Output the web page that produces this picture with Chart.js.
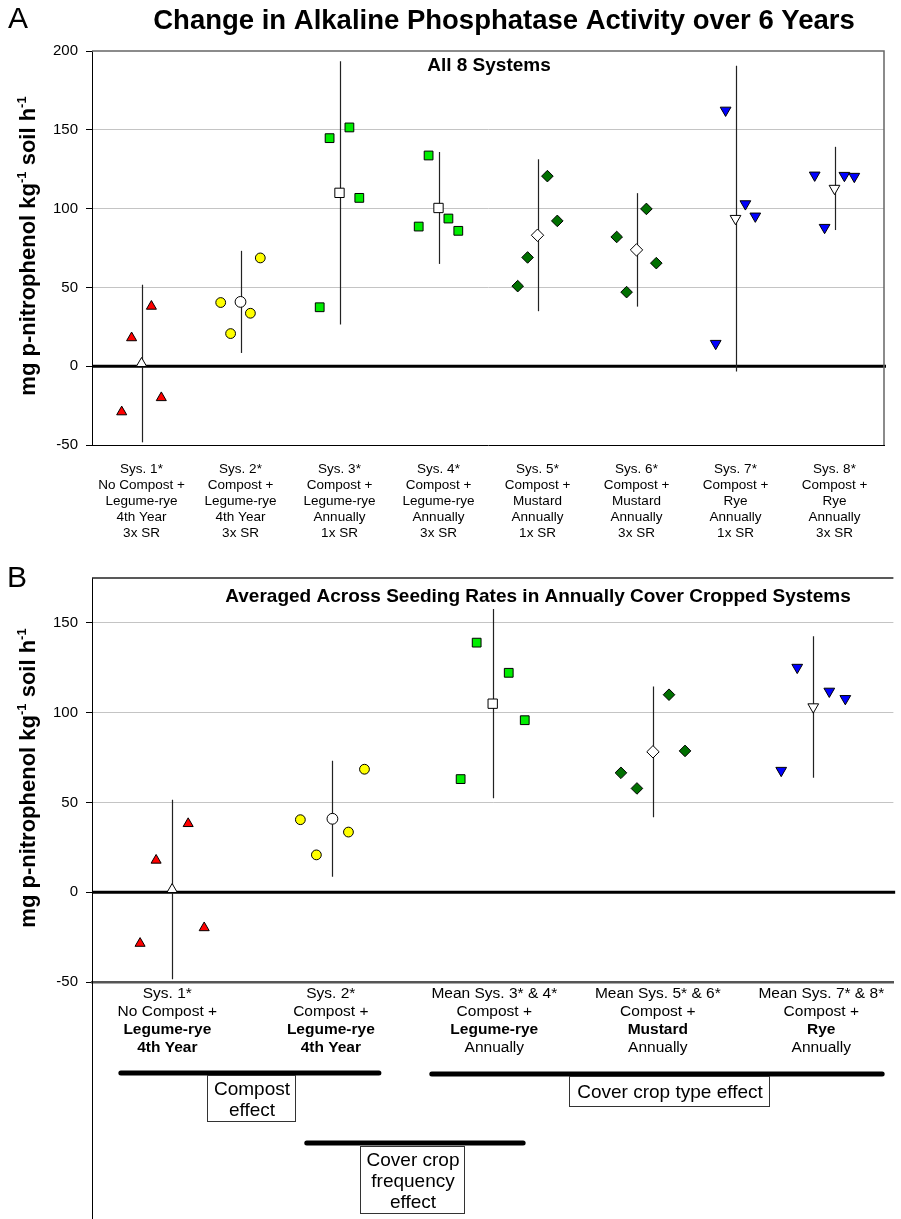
<!DOCTYPE html>
<html>
<head>
<meta charset="utf-8">
<script src="https://cdn.jsdelivr.net/npm/chart.js@4.4.1/dist/chart.umd.min.js"></script>
<style>
  body { margin: 0; background: #fff; }
  #wrap { position: relative; width: 901px; height: 1219px; }
  #chartA { position: absolute; left: 0; top: 0; }
  #chartB { position: absolute; left: 0; top: 560px; }
</style>
</head>
<body>
<div id="wrap">
  <canvas id="chartA" width="901" height="560"></canvas>
  <canvas id="chartB" width="901" height="659"></canvas>
</div>
<script>
const FONT = "'Liberation Sans', Arial, Helvetica, sans-serif";

// ---- panel A : all 8 systems ----
const labelsA = [
  ['Sys. 1*', 'No Compost +', 'Legume-rye', '4th Year', '3x SR'],
  ['Sys. 2*', 'Compost +', 'Legume-rye', '4th Year', '3x SR'],
  ['Sys. 3*', 'Compost +', 'Legume-rye', 'Annually', '1x SR'],
  ['Sys. 4*', 'Compost +', 'Legume-rye', 'Annually', '3x SR'],
  ['Sys. 5*', 'Compost +', 'Mustard', 'Annually', '1x SR'],
  ['Sys. 6*', 'Compost +', 'Mustard', 'Annually', '3x SR'],
  ['Sys. 7*', 'Compost +', 'Rye', 'Annually', '1x SR'],
  ['Sys. 8*', 'Compost +', 'Rye', 'Annually', '3x SR']
];
const sys1 = [-29, 18, 38, -20];
const sys2 = [40.4, 20.7, 33.6, 68.7];
const sys3 = [37.4, 144.7, 151.5, 106.8];
const sys4 = [88.6, 133.7, 93.7, 85.9];
const sys5 = [50.8, 69.0, 120.6, 92.2];
const sys6 = [82.0, 47.0, 99.8, 65.4];
const sys7 = [14.4, 162.4, 103.0, 95.2];
const sys8 = [121.2, 88.0, 121.0, 120.4];
const meansA = [1.7, 40.8, 110, 100.4, 83.1, 73.8, 93.7, 112.8];
const errA = [50, 32.4, 83.5, 35.5, 48.2, 36, 97, 26.4];
const ticksA = [-50, 0, 50, 100, 150, 200];

// ---- panel B : averaged across seeding rates ----
const labelsB = [
  ['Sys. 1*', 'No Compost +', 'Legume-rye', '4th Year'],
  ['Sys. 2*', 'Compost +', 'Legume-rye', '4th Year'],
  ['Mean Sys. 3* & 4*', 'Compost +', 'Legume-rye', 'Annually'],
  ['Mean Sys. 5* & 6*', 'Compost +', 'Mustard', 'Annually'],
  ['Mean Sys. 7* & 8*', 'Compost +', 'Rye', 'Annually']
];
const boldB = [[2, 3], [2, 3], [2], [2], [2]];
const grp1 = [-28.5, 17.8, 38.2, -19.8];
const grp2 = [40.4, 20.8, 33.5, 68.5];
const grp3 = [63.0, 139.0, 122.2, 95.8];
const grp4 = [66.5, 57.8, 110.0, 78.7];
const grp5 = [67.8, 125.2, 111.9, 107.8];
const meansB = [1.5, 40.9, 105, 78.2, 103.2];
const errB = [50, 32.3, 52.7, 36.4, 39.4];
const ticksB = [-50, 0, 50, 100, 150];

const brackets = [
  { from: -0.32, to: 1.29, y: 513, text: ['Compost', 'effect'], box: [207, 515, 88, 46] },
  { from: 1.62, to: 4.43, y: 514, text: ['Cover crop type effect'], box: [569, 516, 200, 30] },
  { from: 0.84, to: 2.19, y: 583, text: ['Cover crop', 'frequency', 'effect'], box: [360, 586, 104, 67] }
];

const jitter = [-0.2, -0.1, 0.1, 0.2];

const marker = {
  tri:  { style: 'triangle', rot: 0,   fill: '#ff0000', r: 5.8, rm: 6.0 },
  circ: { style: 'circle',   rot: 0,   fill: '#ffff00', r: 4.9, rm: 5.4 },
  sq:   { style: 'rect',     rot: 0,   fill: '#00ee00', r: 6.2, rm: 6.6 },
  dia:  { style: 'rectRot',  rot: 0,   fill: '#007000', r: 5.8, rm: 6.2 },
  down: { style: 'triangle', rot: 180, fill: '#0000ff', r: 6.2, rm: 6.2 }
};

const buildSets = (groups, kinds, means) => {
  const sets = groups.map((vals, i) => {
    const m = marker[kinds[i]];
    return {
      data: vals.map((v, j) => ({ x: i + jitter[j], y: v })),
      showLine: false,
      pointStyle: m.style,
      pointRotation: m.rot,
      pointRadius: m.r,
      pointBackgroundColor: m.fill,
      pointBorderColor: '#000',
      pointBorderWidth: 1
    };
  });
  sets.unshift({
    data: means.map((v, i) => ({ x: i, y: v })),
    showLine: false,
    pointStyle: kinds.map(k => marker[k].style),
    pointRotation: kinds.map(k => marker[k].rot),
    pointRadius: kinds.map(k => marker[k].rm),
    pointBackgroundColor: '#ffffff',
    pointBorderColor: '#000',
    pointBorderWidth: 1
  });
  return sets;
};

const errorBars = {
  id: 'errorBars',
  beforeDatasetsDraw(chart, args, opts) {
    const { ctx, chartArea: a, scales: { x, y } } = chart;
    ctx.save();
    ctx.beginPath();
    ctx.rect(a.left, a.top - 2, a.right - a.left + 2, a.bottom - a.top + 2);
    ctx.clip();
    // zero line
    const y0 = y.getPixelForValue(0);
    ctx.strokeStyle = '#000';
    ctx.lineWidth = 3;
    ctx.beginPath();
    ctx.moveTo(a.left, y0);
    ctx.lineTo(a.right + 2, y0);
    ctx.stroke();
    // error bars
    ctx.strokeStyle = '#222';
    ctx.lineWidth = 1.2;
    opts.means.forEach((m, i) => {
      const px = Math.round(x.getPixelForValue(i)) + 0.5;
      ctx.beginPath();
      ctx.moveTo(px, y.getPixelForValue(m + opts.err[i]));
      ctx.lineTo(px, y.getPixelForValue(m - opts.err[i]));
      ctx.stroke();
    });
    ctx.restore();
  }
};

const text = (ctx, str, x, y, size, bold, align) => {
  ctx.font = (bold ? 'bold ' : '') + size + 'px ' + FONT;
  ctx.textAlign = align || 'center';
  ctx.textBaseline = 'middle';
  ctx.fillStyle = '#000';
  ctx.fillText(str, x, y);
};

const yTitle = (ctx, bx, cy) => {
  const parts = [['mg p-nitrophenol kg', false], ['-1', true], [' soil h', false], ['-1', true]];
  const big = 'bold 22px ' + FONT, small = 'bold 13px ' + FONT;
  let total = 0;
  parts.forEach(p => { ctx.font = p[1] ? small : big; total += ctx.measureText(p[0]).width; });
  ctx.save();
  ctx.translate(bx, cy);
  ctx.rotate(-Math.PI / 2);
  ctx.textBaseline = 'alphabetic';
  ctx.textAlign = 'left';
  ctx.fillStyle = '#000';
  let pos = -total / 2;
  parts.forEach(p => {
    ctx.font = p[1] ? small : big;
    ctx.fillText(p[0], pos, p[1] ? -9 : 0);
    pos += ctx.measureText(p[0]).width;
  });
  ctx.restore();
};

const yAxis = (min, max, tickVals) => ({
  type: 'linear',
  min: min,
  max: max,
  afterBuildTicks: s => { s.ticks = tickVals.map(v => ({ value: v })); },
  afterFit: s => { s.width = 92; },
  ticks: { color: '#000', padding: 8, font: { family: FONT, size: 15 } },
  grid: {
    color: c => (c.tick && [50, 100, 150].includes(c.tick.value)) ? '#c4c4c4' : 'rgba(0,0,0,0)',
    tickColor: '#000',
    tickLength: 6,
    lineWidth: 1
  },
  border: { display: true, color: '#000', width: 1 }
});

// ---------- chart A ----------
const kindsA = ['tri', 'circ', 'sq', 'sq', 'dia', 'dia', 'down', 'down'];

const decorA = {
  id: 'decorA',
  afterDraw(chart) {
    const { ctx, chartArea: a } = chart;
    ctx.save();
    ctx.strokeStyle = '#666';
    ctx.lineWidth = 1.5;
    ctx.beginPath();
    ctx.moveTo(a.left, a.top);
    ctx.lineTo(a.right, a.top);
    ctx.lineTo(a.right, a.bottom);
    ctx.stroke();
    ctx.restore();
    text(ctx, 'A', 18, 20, 30, false);
    text(ctx, 'Change in Alkaline Phosphatase Activity over 6 Years', 504, 21, 27.5, true);
    text(ctx, 'All 8 Systems', 489, 66, 19, true);
    yTitle(ctx, 35, 246);
  }
};

new Chart(document.getElementById('chartA'), {
  type: 'scatter',
  data: { datasets: buildSets([sys1, sys2, sys3, sys4, sys5, sys6, sys7, sys8], kindsA, meansA) },
  options: {
    responsive: false,
    animation: false,
    events: [],
    layout: { padding: { top: 51, right: 17, left: 0, bottom: 0 } },
    plugins: {
      legend: { display: false },
      tooltip: { enabled: false },
      errorBars: { means: meansA, err: errA }
    },
    scales: {
      x: {
        type: 'linear',
        min: -0.5,
        max: 7.5,
        afterBuildTicks: s => { s.ticks = labelsA.map((l, i) => ({ value: i })); },
        afterFit: s => { s.height = 115; },
        ticks: {
          color: '#000',
          padding: 16,
          maxRotation: 0,
          autoSkip: false,
          font: { family: FONT, size: 13.5, lineHeight: '16px' },
          callback: v => labelsA[v]
        },
        grid: { display: false, drawTicks: false },
        border: { display: true, color: '#000', width: 1 }
      },
      y: yAxis(-50, 200, ticksA)
    }
  },
  plugins: [errorBars, decorA]
});

// ---------- chart B ----------
const kindsB = ['tri', 'circ', 'sq', 'dia', 'down'];

const decorB = {
  id: 'decorB',
  afterDraw(chart) {
    const { ctx, chartArea: a, scales: { x } } = chart;
    ctx.save();
    ctx.strokeStyle = '#222';
    ctx.lineWidth = 1.5;
    ctx.beginPath();
    ctx.moveTo(a.left, a.top);
    ctx.lineTo(a.right, a.top);
    ctx.stroke();
    // left axis continues below the plot
    ctx.strokeStyle = '#000';
    ctx.lineWidth = 1;
    ctx.beginPath();
    ctx.moveTo(a.left + 0.5, a.bottom);
    ctx.lineTo(a.left + 0.5, chart.height);
    ctx.stroke();
    ctx.restore();

    text(ctx, 'B', 17, 19, 30, false);
    text(ctx, 'Averaged Across Seeding Rates in Annually Cover Cropped Systems', 538, 37, 19, true);
    yTitle(ctx, 35, 218);

    // category labels sit on a slightly wider spacing than the plot groups
    labelsB.forEach((lines, i) => {
      const px = x.getPixelForValue(i * 1.02 - 0.03);
      lines.forEach((ln, k) => text(ctx, ln, px, 434 + k * 18, 15.5, boldB[i].includes(k)));
    });

    brackets.forEach(b => {
      ctx.save();
      ctx.strokeStyle = '#000';
      ctx.lineWidth = 5;
      ctx.lineCap = 'round';
      ctx.beginPath();
      ctx.moveTo(x.getPixelForValue(b.from), b.y);
      ctx.lineTo(x.getPixelForValue(b.to), b.y);
      ctx.stroke();
      const [bx, by, bw, bh] = b.box;
      ctx.fillStyle = '#fff';
      ctx.fillRect(bx, by, bw, bh);
      ctx.lineWidth = 1;
      ctx.lineCap = 'butt';
      ctx.strokeStyle = '#333';
      ctx.strokeRect(bx + 0.5, by + 0.5, bw, bh);
      ctx.restore();
      const step = 21;
      const first = by + bh / 2 - (b.text.length - 1) * step / 2 + 2;
      b.text.forEach((t, k) => text(ctx, t, bx + bw / 2 + 1, first + k * step, 19, false));
    });
  }
};

new Chart(document.getElementById('chartB'), {
  type: 'scatter',
  data: { datasets: buildSets([grp1, grp2, grp3, grp4, grp5], kindsB, meansB) },
  options: {
    responsive: false,
    animation: false,
    events: [],
    layout: { padding: { top: 18, right: 0, left: 0, bottom: 0 } },
    plugins: {
      legend: { display: false },
      tooltip: { enabled: false },
      errorBars: { means: meansB, err: errB }
    },
    scales: {
      x: {
        type: 'linear',
        min: -0.5,
        max: 4.5,
        afterFit: s => { s.height = 237; },
        ticks: { display: false },
        grid: { display: false, drawTicks: false },
        border: { display: true, color: '#555', width: 2.5 }
      },
      y: yAxis(-50, 175, ticksB)
    }
  },
  plugins: [errorBars, decorB]
});
</script>
</body>
</html>
